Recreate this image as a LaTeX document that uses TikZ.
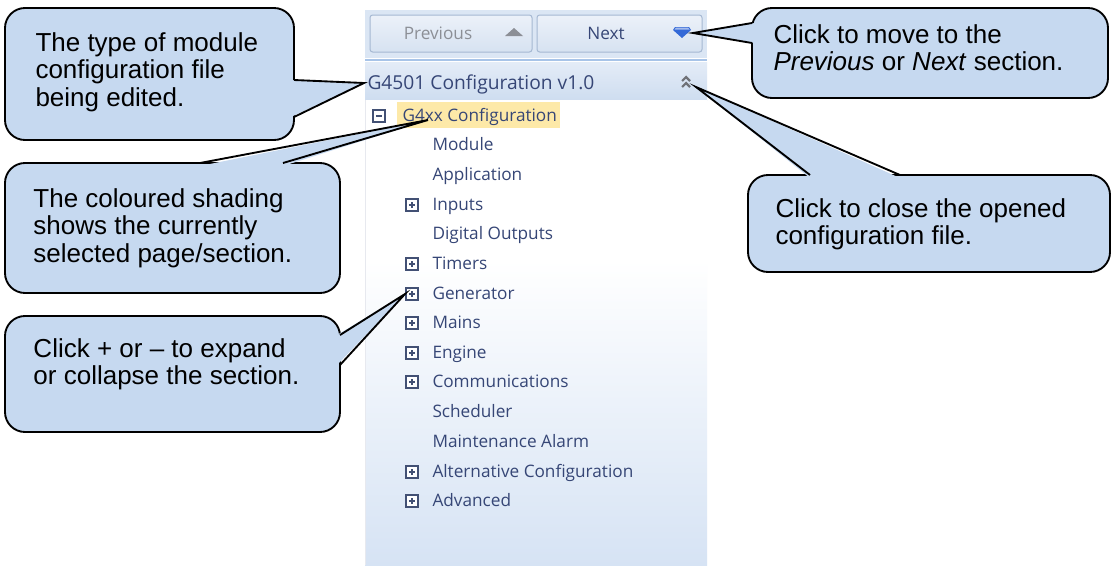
\documentclass[tikz,border=0pt]{standalone}
\usepackage{fontspec}
\setmainfont{Liberation Sans}
\newfontfamily\uifont{Open Sans}
\usetikzlibrary{positioning}

\definecolor{notefill}{RGB}{198,217,240}
\definecolor{uiink}{RGB}{54,70,118}
\definecolor{uigrey}{RGB}{140,143,150}
\definecolor{boxink}{RGB}{66,80,116}
\definecolor{stripblue}{RGB}{219,230,244}
\definecolor{btntop}{RGB}{236,241,249}
\definecolor{btnbottom}{RGB}{214,226,241}
\definecolor{btnedge}{RGB}{165,184,210}
\definecolor{rulerblue}{RGB}{168,196,232}
\definecolor{headtop}{RGB}{228,236,247}
\definecolor{headbottom}{RGB}{206,221,240}
\definecolor{panelfoot}{RGB}{214,227,244}
\definecolor{pickyellow}{RGB}{253,233,168}
\definecolor{arrowblue}{RGB}{52,105,215}

\tikzset{every picture/.style={line width=0.75pt}}
\tikzset{
  note/.style={draw=black, fill=notefill, line width=1.4pt, rounded corners=15pt},
  notetip/.style={fill=notefill},
  noteedge/.style={draw=black, line width=1.4pt},
  notetext/.style={anchor=north west, align=left, inner sep=0pt, font=\fontsize{19.5}{20.6}\selectfont},
  treeitem/.style={anchor=base west, inner sep=0pt, text=uiink, font=\uifont\fontsize{12.9}{15}\selectfont},
  navbtn/.style={draw=btnedge, top color=btntop, bottom color=btnbottom, rounded corners=2pt, minimum height=27.75pt},
  collapser/.style={draw=boxink, line width=0.9pt, fill=white, minimum size=9pt, inner sep=0pt,
    path picture={\draw[boxink, line width=1.1pt] ([xshift=2.2pt]path picture bounding box.west) -- ([xshift=-2.2pt]path picture bounding box.east);}},
  expander/.style={collapser,
    path picture={\draw[boxink, line width=1.1pt] ([xshift=2.2pt]path picture bounding box.west) -- ([xshift=-2.2pt]path picture bounding box.east)
      ([yshift=2.2pt]path picture bounding box.south) -- ([yshift=-2.2pt]path picture bounding box.north);}},
}

\begin{document}
\begin{tikzpicture}[x=0.75pt,y=0.75pt,yscale=-1,xscale=1]
\fill[white] (0,0) rectangle (1113,565);
\useasboundingbox (0,0) rectangle (1113,565);

%Shape: navigation panel
\fill[stripblue] (365,10) rectangle (707,58);
\draw[rulerblue, line width=1.5pt] (365,60) -- (707,60);
\shade[top color=headtop, bottom color=headbottom] (365,62) rectangle (707,100);
\fill[white] (365,100) rectangle (707,260);
\shade[top color=white, bottom color=panelfoot] (365,260) rectangle (707,565);
\draw[white!88!uiink] (365.5,100) -- (365.5,565);

%Shape: buttons
\node[navbtn, minimum width=121.5pt] (prevBtn) at (451,33.5) {};
\node[navbtn, minimum width=123.75pt] (nextBtn) at (619.5,33.5) {};
\node[treeitem, anchor=base, text=uigrey] (prevLbl) at (438,39) {Previous};
\node[treeitem, anchor=base] (nextLbl) at (606,39) {Next};
\fill[uigrey] (505,36) -- (514,28) -- (523,36) -- cycle;
\fill[arrowblue] (675,27) -- (689,27) -- (691,30) -- (682,38) -- (673,30) -- cycle;
\fill[arrowblue!45!white] (676,27.5) -- (688,27.5) -- (689.5,29.5) -- (674.5,29.5) -- cycle;

% Text Node
\node[treeitem, font=\uifont\fontsize{14.4}{17}\selectfont] (fileTitle) at (367,89) {G4501 Configuration v1.0};
\draw[uigrey!80!black, line width=1.6pt] (682,81) -- (686,77) -- (690,81) (682,87) -- (686,83) -- (690,87);

%Shape: selection shading
\fill[pickyellow] (397,102) rectangle (560,128);

% Text Node
\node[collapser] (rootBox) at (379,116) {};
\node[treeitem] (rootItem) at (402,121) {G4xx Configuration};

% Text Node
\node[treeitem] (itemModule) at (432,150) {Module};
\node[treeitem] (itemApplication) at (432,180) {Application};
\node[expander] (plusInputs) at (412,205) {};
\node[treeitem] (itemInputs) at (432,210) {Inputs};
\node[treeitem] (itemDigital) at (432,239) {Digital Outputs};
\node[expander] (plusTimers) at (412,264) {};
\node[treeitem] (itemTimers) at (432,269) {Timers};
\node[expander] (plusGenerator) at (412,294) {};
\node[treeitem] (itemGenerator) at (432,299) {Generator};
\node[expander] (plusMains) at (412,323) {};
\node[treeitem] (itemMains) at (432,328) {Mains};
\node[expander] (plusEngine) at (412,353) {};
\node[treeitem] (itemEngine) at (432,358) {Engine};
\node[expander] (plusComms) at (412,382) {};
\node[treeitem] (itemComms) at (432,387) {Communications};
\node[treeitem] (itemScheduler) at (432,417) {Scheduler};
\node[treeitem] (itemAlarm) at (432,447) {Maintenance Alarm};
\node[expander] (plusAlt) at (412,472) {};
\node[treeitem] (itemAlt) at (432,477) {Alternative Configuration};
\node[expander] (plusAdvanced) at (412,501) {};
\node[treeitem] (itemAdvanced) at (432,506) {Advanced};

% pointer tips
\coordinate (typeTip) at (364,83);
\coordinate (shadeTip) at (428,120);
\coordinate (expandTip) at (405,294);
\coordinate (navTip) at (693,33);
\coordinate (closeTip) at (696,87);

%Shape: callout, file type
\draw[note] (5,8) rectangle (294,140);
\fill[notetip] (291,80) -- (typeTip) -- (291,117) -- cycle;
\draw[noteedge] (294,80) -- (typeTip) -- (294,117);

%Shape: callout, shading
\draw[note] (5,163) rectangle (340,293);
\fill[notetip] (200,166) -- (shadeTip) -- (283,166) -- cycle;
\draw[noteedge] (200,163) -- (shadeTip) -- (283,163);

%Shape: callout, expand
\draw[note] (5,316) rectangle (340,432);
\fill[notetip] (337,335) -- (expandTip) -- (337,365) -- cycle;
\draw[noteedge] (340,335) -- (expandTip) -- (340,365);

%Shape: callout, previous/next
\draw[note] (752,8) rectangle (1108,98);
\fill[notetip] (755,23) -- (navTip) -- (755,43) -- cycle;
\draw[noteedge] (752,23) -- (navTip) -- (752,43);

%Shape: callout, close
\draw[note] (748,175) rectangle (1110,272);
\fill[notetip] (810,178) -- (closeTip) -- (900,178) -- cycle;
\draw[noteedge] (810,175) -- (closeTip) -- (900,175);

% Text Node
\node[notetext] (typeText) at (35,32) {The type of module\\configuration file\\being edited.};
% Text Node
\node[notetext] (shadeText) at (33,188) {The coloured shading\\shows the currently\\selected page/section.};
% Text Node
\node[notetext] (expandText) at (33,338) {Click + or – to expand\\or collapse the section.};
% Text Node
\node[notetext] (navText) at (773,24) {Click to move to the\\\textit{Previous} or \textit{Next} section.};
% Text Node
\node[notetext] (closeText) at (775,198) {Click to close the opened\\configuration file.};

\end{tikzpicture}
\end{document}
